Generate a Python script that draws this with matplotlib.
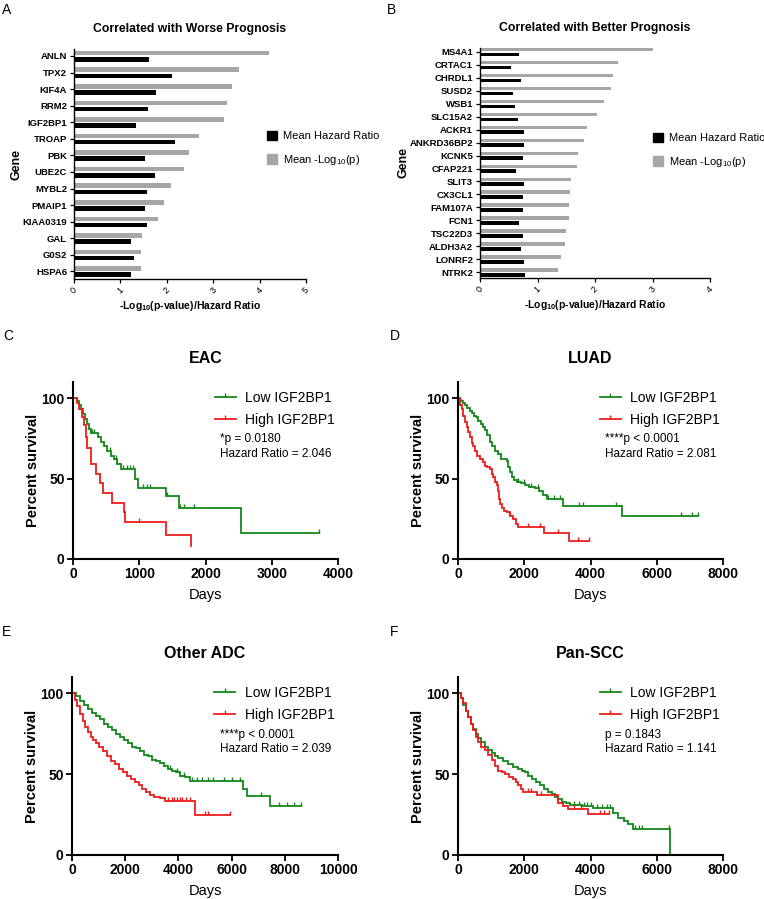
import numpy as np
import matplotlib
matplotlib.use("Agg")
import matplotlib.pyplot as plt
from matplotlib.patches import Patch
from matplotlib.lines import Line2D

plt.rcParams['font.family'] = ['Liberation Sans', 'DejaVu Sans']
plt.rcParams['mathtext.default'] = 'regular'

# ---------------- Data: bar panels ----------------
worse_genes = ["ANLN", "TPX2", "KIF4A", "RRM2", "IGF2BP1", "TROAP", "PBK", "UBE2C",
               "MYBL2", "PMAIP1", "KIAA0319", "GAL", "G0S2", "HSPA6"]
worse_logp = [4.20, 3.56, 3.41, 3.29, 3.24, 2.69, 2.48, 2.38, 2.09, 1.93, 1.80, 1.47, 1.45, 1.45]
worse_hr = [1.61, 2.11, 1.76, 1.59, 1.33, 2.18, 1.52, 1.75, 1.57, 1.54, 1.57, 1.22, 1.30, 1.22]

better_genes = ["MS4A1", "CRTAC1", "CHRDL1", "SUSD2", "WSB1", "SLC15A2", "ACKR1", "ANKRD36BP2",
                "KCNK5", "CFAP221", "SLIT3", "CX3CL1", "FAM107A", "FCN1", "TSC22D3", "ALDH3A2",
                "LONRF2", "NTRK2"]
better_logp = [3.00, 2.40, 2.31, 2.28, 2.16, 2.03, 1.86, 1.80, 1.70, 1.69, 1.58, 1.56, 1.55,
               1.54, 1.49, 1.48, 1.40, 1.35]
better_hr = [0.68, 0.54, 0.72, 0.57, 0.61, 0.66, 0.76, 0.76, 0.74, 0.63, 0.77, 0.74, 0.75,
             0.68, 0.75, 0.72, 0.77, 0.79]

# ---------------- Data: survival curves (step change points) ----------------
eac_low_t = [0, 60, 90, 120, 150, 180, 210, 240, 270, 380, 420, 470, 520, 570, 620, 670, 720,
             940, 980, 1400, 1600, 2530]
eac_low_s = [100, 98, 96, 93, 90, 87, 84, 81, 78, 76, 73, 70, 67, 64, 62, 59, 56, 50, 44, 39, 32, 16]
eac_low_end = 3720
eac_low_cens = [280, 320, 560, 650, 760, 810, 860, 900, 1060, 1110, 1160, 1420, 1620, 1670, 1830, 3720]

eac_high_t = [0, 55, 95, 130, 160, 190, 215, 265, 340, 405, 455, 585, 770, 790, 1400, 1780]
eac_high_s = [100, 97, 93, 88, 83, 76, 69, 59, 53, 47, 41, 35, 29, 23, 15, 8]
eac_high_end = 1780
eac_high_cens = [1000]

luad_low_t = [0, 50, 100, 150, 210, 280, 350, 410, 480, 550, 610, 680, 750, 815, 880, 960, 1030,
              1110, 1200, 1310, 1470, 1520, 1580, 1630, 1700, 1770, 1900, 2020, 2150, 2320, 2450,
              2580, 2680, 3180, 4960]
luad_low_s = [100, 99, 98, 97, 96, 94, 92, 91, 89, 88, 86, 84, 82, 80, 77, 73, 70, 67, 65, 62, 61,
              57, 54, 51, 49, 48, 47, 46, 45, 44, 42, 40, 37, 33, 26.5]
luad_low_end = 7250
luad_low_cens = [1800, 2000, 2200, 2400, 2730, 2900, 3080, 3660, 3770, 4760, 6720, 7050, 7250]

luad_high_t = [0, 50, 110, 160, 210, 260, 310, 360, 410, 460, 510, 580, 660, 740, 815, 890, 966,
               1020, 1070, 1120, 1170, 1210, 1240, 1280, 1320, 1400, 1470, 1570, 1670, 1740, 1800,
               2610, 3350]
luad_high_s = [100, 96, 93, 89, 85, 82, 79, 76, 72, 70, 67, 64, 62, 60, 58, 57, 56, 53, 51, 48,
               46, 42, 37, 34, 32, 30, 29, 27, 25, 22, 20, 16, 11]
luad_high_end = 3940
luad_high_cens = [1580, 2100, 2480, 3020, 3620, 3940]

adc_low_t = [0, 150, 300, 450, 600, 750, 900, 1050, 1200, 1350, 1500, 1650, 1800, 1950, 2100,
             2250, 2400, 2550, 2700, 2850, 3000, 3150, 3300, 3450, 3600, 3750, 3900, 4050, 4250,
             4440, 6440, 6570, 7450]
adc_low_s = [100, 98, 95, 93, 90, 88, 86, 84, 81, 79, 77, 75, 73, 71, 69, 67, 66, 64, 62, 61, 59,
             58, 57, 55, 53, 52, 51, 49, 48, 46, 41, 36.5, 30.5]
adc_low_end = 8600
adc_low_cens = [3700, 3950, 4200, 4500, 4700, 4900, 5100, 5300, 5700, 6000, 6300, 7100, 7800,
                8100, 8350, 8600]

adc_high_t = [0, 100, 200, 300, 400, 500, 600, 700, 800, 900, 1000, 1150, 1300, 1450, 1600, 1750,
              1900, 2050, 2200, 2350, 2500, 2650, 2800, 2950, 3100, 3300, 3500, 4620]
adc_high_s = [100, 96, 92, 87, 83, 79, 76, 73, 71, 69, 67, 64, 61, 58, 56, 53, 51, 49, 47, 45,
              43, 41, 39, 37, 36, 35, 33.5, 25]
adc_high_end = 5950
adc_high_cens = [3600, 3750, 3850, 3950, 4050, 4150, 4300, 4450, 5000, 5100, 5950]

scc_low_t = [0, 80, 160, 240, 312, 390, 463, 540, 614, 700, 815, 910, 1016, 1110, 1218, 1370,
             1520, 1670, 1821, 1920, 2023, 2120, 2224, 2350, 2476, 2600, 2727, 2830, 2928, 3030,
             3130, 3250, 3381, 3733, 4085, 4690, 4840, 5000, 5140, 5290, 6400]
scc_low_s = [100, 97, 93, 89, 85, 81, 78, 75, 72, 70, 67, 65, 63, 61, 60, 58, 56, 54.5, 53, 52,
             51, 49, 47, 45, 43, 41, 39, 37.5, 36, 34.5, 33, 32, 31, 30, 29, 26, 23, 21, 19, 16, 0]
scc_low_end = 6400
scc_low_cens = [3500, 3650, 3800, 3900, 4000, 4200, 4350, 4500, 4600, 5350, 5450, 5550, 6380]

scc_high_t = [0, 80, 161, 240, 312, 390, 463, 540, 614, 700, 815, 910, 1016, 1110, 1218, 1320,
              1419, 1540, 1671, 1750, 1821, 1900, 1972, 2375, 3029, 3180, 3331, 3935]
scc_high_s = [100, 97, 94, 89, 85, 81, 77, 73, 70, 67, 65, 62, 59, 55, 52, 51, 50, 48, 47, 45,
              43, 41, 39, 37, 32, 30, 28.5, 25.5]
scc_high_end = 4560
scc_high_cens = [2100, 2200, 2500, 3500, 3700, 4300, 4400, 4560]

km_titles = ["EAC", "LUAD", "Other ADC", "Pan-SCC"]
km_stats = ["*p = 0.0180\nHazard Ratio = 2.046",
            "****p < 0.0001\nHazard Ratio = 2.081",
            "****p < 0.0001\nHazard Ratio = 2.039",
            "p = 0.1843\nHazard Ratio = 1.141"]
km_xmax = [4000, 8000, 10000, 8000]
km_xstep = [1000, 2000, 2000, 2000]

GREEN = "#14881a"
RED = "#ee1c1c"
GRAY = "#a6a6a6"
CENSOR = [(0, 0), (0, 1)]  # upward censor tick

W, H = 764, 899
fig = plt.figure(figsize=(W / 100, H / 100), dpi=100)


def px_axes(left, top, right, bottom):
    return fig.add_axes([left / W, 1 - bottom / H, (right - left) / W, (bottom - top) / H])


def bar_panel(ax, genes, logp, hr, xmax, title, ylim_top, ylim_bot):
    y = np.arange(len(genes))
    ax.barh(y - 0.17, logp, height=0.27, color=GRAY, label="Mean -Log$_{10}$(p)")
    ax.barh(y + 0.2, hr, height=0.27, color="black", label="Mean Hazard Ratio")
    ax.set_ylim(ylim_bot, ylim_top)
    ax.set_xlim(0, xmax)
    ax.set_yticks(y)
    ax.set_yticklabels(genes, fontsize=6.8, fontweight="bold")
    ax.set_xticks(range(0, xmax + 1))
    ax.set_xticklabels([str(v) for v in range(0, xmax + 1)], fontsize=6.5, rotation=45,
                       ha="center", va="top")
    for s in ("top", "right"):
        ax.spines[s].set_visible(False)
    for s in ("left", "bottom"):
        ax.spines[s].set_linewidth(1.0)
    ax.tick_params(axis="both", length=3, width=0.9, pad=2)
    ax.set_xlabel("-Log$_{10}$(p-value)/Hazard Ratio", fontsize=7.5, fontweight="bold", labelpad=2)
    ax.set_ylabel("Gene", fontsize=9, fontweight="bold", labelpad=0)
    ax.set_title(title, fontsize=8.8, fontweight="bold", pad=12)
    handles = [Patch(color="black"), Patch(color=GRAY)]
    ax.legend(handles, ["Mean Hazard Ratio", "Mean -Log$_{10}$(p)"], loc="upper left",
              bbox_to_anchor=(0.83, 0.645), frameon=False, fontsize=8, handlelength=0.9,
              handleheight=0.9, handletextpad=0.6, labelspacing=1.05, borderpad=0,
              borderaxespad=0)


axA = px_axes(74, 49, 306, 279)
bar_panel(axA, worse_genes, worse_logp, worse_hr, 5, "Correlated with Worse Prognosis", -0.42, 13.46)
axB = px_axes(480, 48, 710, 278)
bar_panel(axB, better_genes, better_logp, better_hr, 4, "Correlated with Better Prognosis", -0.3, 17.45)
axB.get_legend().set_bbox_to_anchor((0.75, 0.632))


def step_curve(ax, t, s, end, cens, color):
    t = np.asarray(t, float)
    s = np.asarray(s, float)
    xs = np.append(t, end)
    ys = np.append(s, s[-1])
    ax.step(xs, ys, where="post", color=color, lw=1.3, solid_joinstyle="miter")
    c = np.asarray(cens, float)
    idx = np.searchsorted(t, c, side="right") - 1
    ax.plot(c, s[idx], linestyle="none", marker=CENSOR, markersize=6, markeredgewidth=1.0,
            color=color, fillstyle="none")


km_data = [
    (eac_low_t, eac_low_s, eac_low_end, eac_low_cens, eac_high_t, eac_high_s, eac_high_end, eac_high_cens),
    (luad_low_t, luad_low_s, luad_low_end, luad_low_cens, luad_high_t, luad_high_s, luad_high_end, luad_high_cens),
    (adc_low_t, adc_low_s, adc_low_end, adc_low_cens, adc_high_t, adc_high_s, adc_high_end, adc_high_cens),
    (scc_low_t, scc_low_s, scc_low_end, scc_low_cens, scc_high_t, scc_high_s, scc_high_end, scc_high_cens),
]
km_boxes = [(73, 382, 338, 559), (458, 382, 723, 559), (72, 677, 338, 855), (458, 677, 723, 855)]

for i in range(4):
    ax = px_axes(*km_boxes[i])
    lt, ls, le, lc, ht, hs, he, hc = km_data[i]
    step_curve(ax, lt, ls, le, lc, GREEN)
    step_curve(ax, ht, hs, he, hc, RED)
    ax.set_xlim(0, km_xmax[i])
    ax.set_ylim(0, 110)
    ax.set_xticks(np.arange(0, km_xmax[i] + 1, km_xstep[i]))
    ax.set_yticks([0, 50, 100])
    for s in ("top", "right"):
        ax.spines[s].set_visible(False)
    for s in ("left", "bottom"):
        ax.spines[s].set_linewidth(1.5)
    ax.tick_params(axis="both", length=4, width=1.3, pad=2, labelsize=10)
    for lab in ax.get_xticklabels() + ax.get_yticklabels():
        lab.set_fontweight("bold")
    ax.set_xlabel("Days", fontsize=10.5, labelpad=5)
    ax.set_ylabel("Percent survival", fontsize=10.5, fontweight="bold", labelpad=1)
    ax.set_title(km_titles[i], fontsize=11.5, fontweight="bold", pad=14)
    handles = [Line2D([], [], color=GREEN, lw=1.3, marker=CENSOR, markersize=6, fillstyle="none"),
               Line2D([], [], color=RED, lw=1.3, marker=CENSOR, markersize=6, fillstyle="none")]
    ax.legend(handles, ["Low IGF2BP1", "High IGF2BP1"], loc="upper left",
              bbox_to_anchor=(0.535, 0.95), frameon=False, fontsize=10, handlelength=1.5,
              handletextpad=0.7, labelspacing=0.6, borderpad=0, borderaxespad=0, numpoints=1)
    ax.text(0.555, 0.71, km_stats[i], transform=ax.transAxes, fontsize=8.5, va="top",
            ha="left", linespacing=1.25)

for letter, x, y in [("A", 2, 3), ("B", 387, 3), ("C", 3, 329), ("D", 390, 329),
                     ("E", 2, 625), ("F", 390, 625)]:
    fig.text(x / W, 1 - y / H, letter, fontsize=10, va="top", ha="left")

fig.savefig("out.png", dpi=100)
